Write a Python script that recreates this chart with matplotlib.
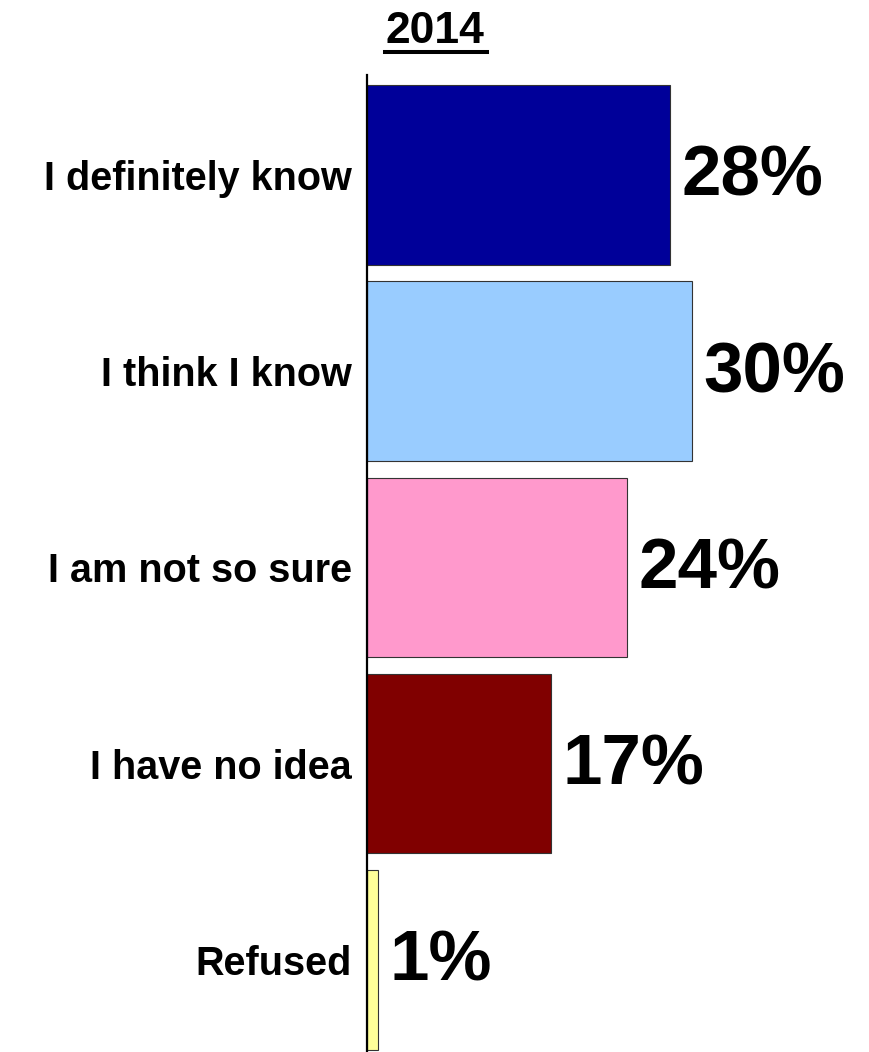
import matplotlib.pyplot as plt
from matplotlib import font_manager

# survey answers, 2014
categories = ["I definitely know", "I think I know", "I am not so sure", "I have no idea", "Refused"]
values = [28, 30, 24, 17, 1]
colors = ["#000099", "#99CCFF", "#FF99CC", "#800000", "#FFFF99"]
title = "2014"

# pick the plain (not Narrow) Liberation Sans Bold file
bold_file = None
for f in font_manager.fontManager.ttflist:
    if f.name == "Liberation Sans" and f.weight == 700 and f.style == "normal":
        bold_file = f.fname
        break
if bold_file:
    fp = lambda size: font_manager.FontProperties(fname=bold_file, size=size)
else:
    fp = lambda size: font_manager.FontProperties(family="DejaVu Sans", weight="bold", size=size)

fig = plt.figure(figsize=(8.69, 10.52), dpi=100)
ax = fig.add_axes([367 / 869, 0.0, 1 - 367 / 869, 1 - 75 / 1052])

pos = list(range(len(categories)))
ax.barh(pos, values, height=0.915, color=colors, edgecolor="#333333", linewidth=0.8)

for p, v in zip(pos, values):
    ax.text(v + 1.1, p + 0.015, f"{v}%", fontproperties=fp(51), va="center", ha="left")

ax.set_xlim(0, 46.4)
ax.set_ylim(4.47, -0.51)
ax.set_yticks(pos)
ax.set_yticklabels(categories)
for lbl in ax.get_yticklabels():
    lbl.set_fontproperties(fp(28.5))
ax.tick_params(axis="y", length=0, pad=11)
ax.set_xticks([])
for s in ["top", "right", "bottom"]:
    ax.spines[s].set_visible(False)
ax.spines["left"].set_linewidth(1.6)

# underlined title
t = fig.text(435 / 869, 1 - 43 / 1052, title, fontproperties=fp(32), ha="center", va="baseline")
fig.canvas.draw()
bb = t.get_window_extent().transformed(fig.transFigure.inverted())
fig.add_artist(plt.Line2D([bb.x0 - 1 / 869, bb.x1 + 3 / 869], [1 - 52 / 1052] * 2, color="black",
                          linewidth=2.9, transform=fig.transFigure))

fig.savefig("out.png", dpi=100)
